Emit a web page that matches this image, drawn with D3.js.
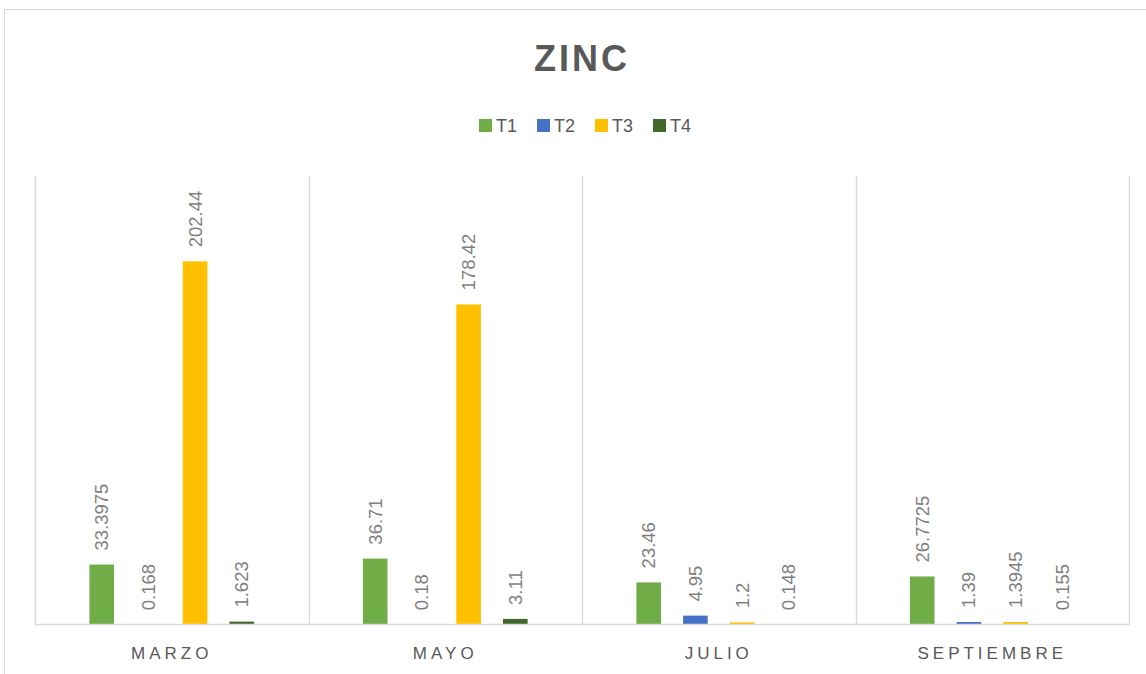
<!DOCTYPE html>
<html><head><meta charset="utf-8">
<script src="https://cdn.jsdelivr.net/npm/d3@7"></script>
<style>
html,body{margin:0;padding:0;background:#fff;}
text{font-family:"Liberation Sans",Arial,sans-serif;}
</style></head>
<body>
<svg id="chart" width="1146" height="674"></svg>
<script>
const categories = ["MARZO", "MAYO", "JULIO", "SEPTIEMBRE"];
const seriesNames = ["T1", "T2", "T3", "T4"];
const seriesColors = ["#70AD47", "#4472C4", "#FFC000", "#43682B"];
const T1 = [33.3975, 36.71, 23.46, 26.7725];
const T2 = [0.168, 0.18, 4.95, 1.39];
const T3 = [202.44, 178.42, 1.2, 1.3945];
const T4 = [1.623, 3.11, 0.148, 0.155];
const seriesValues = [T1, T2, T3, T4];
const yMax = 250;

const svg = d3.select("#chart");
const W = 1146, H = 674;
const plot = {left: 35, right: 1129, top: 176, bottom: 624.5};

svg.append("rect").attr("x", 4.5).attr("y", 9.5).attr("width", W + 10).attr("height", H + 10)
  .attr("fill", "#fff").attr("stroke", "#d9d9d9").attr("stroke-width", 1);

svg.append("text").attr("x", 582).attr("y", 71).attr("text-anchor", "middle")
  .attr("font-size", 36).attr("font-weight", "bold").attr("fill", "#595959")
  .attr("letter-spacing", 3).text("ZINC");

// legend
const leg = svg.append("g").attr("transform", "translate(479,118)");
const legX = d3.scalePoint().domain(seriesNames).range([0, 174]);
seriesNames.forEach((s, i) => {
  const g = leg.append("g").attr("transform", `translate(${legX(s)},0)`);
  g.append("rect").attr("x", 0).attr("y", 1).attr("width", 13).attr("height", 13).attr("fill", seriesColors[i]);
  g.append("text").attr("x", 17).attr("y", 13.5).attr("font-size", 18).attr("fill", "#595959").text(s);
});

const x0 = d3.scaleBand().domain(categories).range([plot.left, plot.right]).paddingInner(0).paddingOuter(0);
const x1 = d3.scaleBand().domain(seriesNames).range([0, x0.bandwidth()]).paddingInner(0.473).paddingOuter(1.165);
const y = d3.scaleLinear().domain([0, yMax]).range([plot.bottom, plot.top]);

// vertical gridlines at category boundaries
const bounds = categories.map(c => x0(c)).concat([plot.right]);
svg.append("g").selectAll("line").data(bounds).join("line")
  .attr("x1", d => Math.round(d) + 0.5).attr("x2", d => Math.round(d) + 0.5)
  .attr("y1", plot.top).attr("y2", plot.bottom)
  .attr("stroke", "#d9d9d9").attr("stroke-width", 1.3);

// bars
const groups = svg.append("g").selectAll("g").data(categories).join("g")
  .attr("transform", c => `translate(${x0(c)},0)`);
groups.each(function(c, ci) {
  const g = d3.select(this);
  seriesNames.forEach((s, si) => {
    const v = seriesValues[si][ci];
    g.append("rect").attr("x", x1(s)).attr("width", x1.bandwidth())
      .attr("y", y(v)).attr("height", y(0) - y(v)).attr("fill", seriesColors[si]);
    const cx = x1(s) + x1.bandwidth() / 2;
    const ty = y(v) - 14;
    g.append("text").attr("transform", `translate(${cx},${ty}) rotate(-90)`)
      .attr("dominant-baseline", "central").attr("text-anchor", "start")
      .attr("font-size", 18.5).attr("fill", "#7f7f7f").text(String(v));
  });
});

// baseline
svg.append("line").attr("x1", plot.left).attr("x2", plot.right)
  .attr("y1", plot.bottom).attr("y2", plot.bottom).attr("stroke", "#d9d9d9").attr("stroke-width", 1.3);

// category axis labels
const xAxis = d3.axisBottom(x0).tickSize(0).tickPadding(0);
const ax = svg.append("g").attr("transform", `translate(0,${plot.bottom})`).call(xAxis);
ax.select(".domain").remove();
ax.selectAll("text").attr("y", 34).attr("dy", 0).attr("font-size", 17).attr("fill", "#595959")
  .attr("letter-spacing", 4).attr("font-family", "Liberation Sans, Arial, sans-serif");
</script>
</body></html>
